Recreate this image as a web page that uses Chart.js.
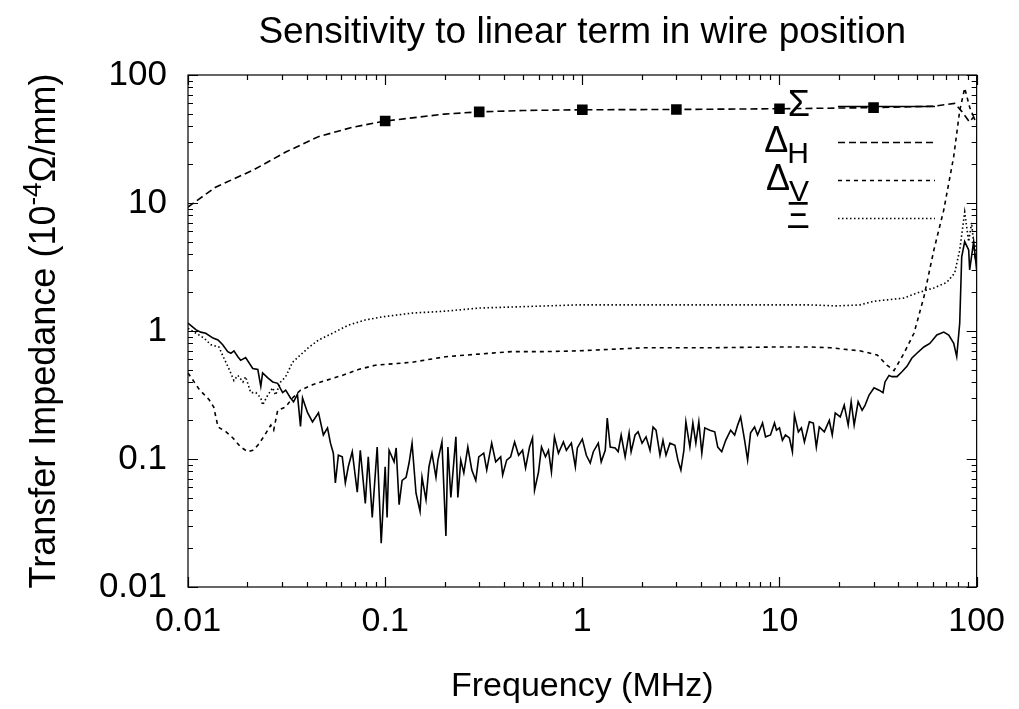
<!DOCTYPE html>
<html>
<head>
<meta charset="utf-8">
<script src="https://cdn.jsdelivr.net/npm/chart.js@4"></script>
<style>
  html, body { margin: 0; padding: 0; background: #fff; }
  #wrap { width: 1019px; height: 709px; }
</style>
</head>
<body>
<div id="wrap"><canvas id="chart" width="1019" height="709"></canvas></div>
<script>
/* ── Data (frequency in MHz, impedance in 10^-4 Ohm/mm) ── */
const xTicks = [0.01, 0.1, 1, 10, 100];
const xTickLabels = ['0.01', '0.1', '1', '10', '100'];
const yTicks = [0.01, 0.1, 1, 10, 100];
const yTickLabels = ['0.01', '0.1', '1', '10', '100'];

const sigmaFreq = [
  0.01, 0.011, 0.0116, 0.0123, 0.0134, 0.0142, 0.015, 0.0159, 0.0165, 0.0171,
  0.0179, 0.0185, 0.0196, 0.0213, 0.0226, 0.0234, 0.0239, 0.0254, 0.0269, 0.0285,
  0.0302, 0.0313, 0.0331, 0.0343, 0.0359, 0.0372, 0.0381, 0.0404, 0.0428, 0.0459,
  0.0486, 0.051, 0.0528, 0.0546, 0.0559, 0.0579, 0.0606, 0.0628, 0.065, 0.0681,
  0.0722, 0.0748, 0.0793, 0.0821, 0.086, 0.0911, 0.0955, 0.1, 0.1023, 0.1047,
  0.111, 0.1137, 0.1177, 0.1219, 0.1277, 0.1322, 0.1369, 0.1434, 0.1503, 0.1538,
  0.1611, 0.1668, 0.1727, 0.181, 0.1852, 0.1941, 0.2033, 0.2081, 0.2154, 0.2284,
  0.2337, 0.2419, 0.2506, 0.2626, 0.2751, 0.2882, 0.2984, 0.3162, 0.3275, 0.347,
  0.3636, 0.3854, 0.3945, 0.4133, 0.433, 0.4535, 0.4752, 0.4977, 0.5154, 0.5399,
  0.5591, 0.5723, 0.5995, 0.6208, 0.6503, 0.6733, 0.6973, 0.7221, 0.7566, 0.8017,
  0.8303, 0.8799, 0.9218, 0.9434, 1.0, 1.048, 1.097, 1.137, 1.205, 1.247,
  1.307, 1.338, 1.385, 1.468, 1.52, 1.574, 1.649, 1.727, 1.768, 1.852,
  1.918, 2.009, 2.105, 2.205, 2.284, 2.365, 2.477, 2.565, 2.657, 2.783,
  2.949, 3.054, 3.162, 3.275, 3.352, 3.512, 3.636, 3.765, 3.899, 4.037,
  4.18, 4.432, 4.696, 4.862, 5.095, 5.337, 5.655, 5.925, 6.136, 6.353,
  6.656, 6.893, 7.136, 7.477, 7.743, 8.206, 8.499, 9.006, 9.434, 9.657,
  10.0, 10.35, 10.72, 11.23, 11.63, 11.91, 12.47, 12.92, 13.38, 14.18,
  14.85, 15.38, 15.92, 16.88, 17.89, 18.52, 19.18, 20.33, 21.3, 22.31,
  23.1, 23.92, 25.06, 26.25, 27.19, 28.48, 30.18, 31.99, 33.51, 34.3,
  35.94, 37.21, 39.45, 41.8, 44.32, 46.96, 49.77, 54.0, 57.89, 62.81,
  68.13, 72.21, 76.53, 79.25, 82.06, 84.0, 86.98, 91.12, 92.18, 96.56, 100
];
const sigmaVal = [
  1.15, 1.02, 0.98, 0.96, 0.88, 0.85, 0.78, 0.69, 0.67, 0.70,
  0.63, 0.59, 0.62, 0.51, 0.50, 0.37, 0.47, 0.43, 0.40, 0.39,
  0.33, 0.345, 0.30, 0.28, 0.32, 0.18, 0.30, 0.23, 0.195, 0.23,
  0.154, 0.175, 0.133, 0.111, 0.065, 0.107, 0.104, 0.065, 0.087, 0.114,
  0.055, 0.117, 0.045, 0.104, 0.035, 0.124, 0.022, 0.087, 0.035, 0.117,
  0.095, 0.122, 0.044, 0.068, 0.072, 0.093, 0.133, 0.054, 0.039, 0.072,
  0.048, 0.087, 0.111, 0.072, 0.098, 0.136, 0.025, 0.124, 0.050, 0.149,
  0.050, 0.098, 0.078, 0.124, 0.082, 0.068, 0.104, 0.111, 0.082, 0.133,
  0.095, 0.104, 0.075, 0.098, 0.104, 0.136, 0.107, 0.117, 0.085, 0.124,
  0.146, 0.057, 0.079, 0.124, 0.104, 0.117, 0.079, 0.149, 0.111, 0.136,
  0.117, 0.133, 0.087, 0.122, 0.143, 0.107, 0.093, 0.114, 0.133, 0.095,
  0.117, 0.209, 0.124, 0.122, 0.114, 0.154, 0.104, 0.16, 0.114, 0.154,
  0.163, 0.133, 0.149, 0.117, 0.178, 0.168, 0.107, 0.14, 0.107, 0.133,
  0.128, 0.098, 0.082, 0.117, 0.195, 0.124, 0.191, 0.133, 0.195, 0.111,
  0.175, 0.168, 0.163, 0.124, 0.114, 0.14, 0.168, 0.154, 0.184, 0.213,
  0.14, 0.098, 0.16, 0.178, 0.154, 0.191, 0.149, 0.154, 0.191, 0.168,
  0.175, 0.14, 0.154, 0.146, 0.114, 0.22, 0.163, 0.175, 0.136, 0.195,
  0.191, 0.124, 0.178, 0.163, 0.20, 0.154, 0.229, 0.213, 0.264, 0.184,
  0.28, 0.184, 0.28, 0.24, 0.264, 0.316, 0.36, 0.345, 0.33, 0.40,
  0.45, 0.44, 0.44, 0.48, 0.53, 0.615, 0.67, 0.75, 0.80, 0.93,
  0.98, 0.93, 0.80, 0.63, 1.15, 3.8, 5.0, 4.3, 3.0, 5.0, 3.0
];

const deltaHFreq = [0.01, 0.0138, 0.0213, 0.0313, 0.0459, 0.068, 0.1, 0.2, 0.3, 0.5,
  1, 3, 10, 30, 60.7, 77.4, 84, 92, 96.6, 100];
const deltaHVal = [9.3, 13.3, 18, 25, 33, 39, 43.7, 49.5, 51.5, 52.8,
  53.5, 53.8, 54.5, 55.6, 57, 60, 52, 43, 47, 41];

const markFreq = [0.1, 0.3, 1, 3, 10, 30];
const markVal = [43.7, 51.5, 53.5, 53.8, 54.5, 55.6];

const deltaVFreq = [0.01, 0.0114, 0.0128, 0.0135, 0.0142, 0.0156, 0.0169, 0.0185, 0.0201, 0.0213,
  0.0226, 0.0242, 0.0263, 0.0272, 0.0285, 0.0313, 0.0339, 0.0372, 0.0428, 0.0498,
  0.0606, 0.0731, 0.089, 0.137, 0.203, 0.298, 0.438, 0.65, 0.955, 2.08,
  4.48, 9.77, 14.3, 18.1, 21.3, 25.6, 31.3, 35.1, 38.1, 42.8,
  48.1, 54.0, 60.7, 68.1, 76.5, 82.1, 87.0, 92.2, 96.6, 100];
const deltaVVal = [0.47, 0.35, 0.29, 0.255, 0.178, 0.163, 0.146, 0.124, 0.114, 0.117,
  0.128, 0.149, 0.184, 0.168, 0.24, 0.255, 0.30, 0.345, 0.38, 0.41,
  0.45, 0.50, 0.54, 0.57, 0.63, 0.66, 0.69, 0.69, 0.70, 0.74,
  0.74, 0.75, 0.75, 0.74, 0.72, 0.70, 0.65, 0.54, 0.49, 0.67,
  0.96, 1.84, 4.3, 8.8, 23, 53, 79, 56, 47, 45];

const xiFreq = [0.01, 0.011, 0.01205, 0.01307, 0.01434, 0.0152, 0.0161, 0.0171, 0.0179, 0.019,
  0.0196, 0.0208, 0.0221, 0.0234, 0.0239, 0.0254, 0.0269, 0.0278, 0.0295, 0.0313,
  0.0339, 0.0372, 0.0408, 0.0459, 0.054, 0.065, 0.0793, 0.0966, 0.137, 0.203,
  0.298, 0.438, 0.65, 0.955, 2.08, 4.48, 9.77, 14.3, 19.6, 25.6,
  30.2, 35.1, 42.8, 49.8, 60.7, 70.6, 77.4, 82.1, 87.0, 91.1, 94.3, 97.7, 100];
const xiVal = [1.05, 0.96, 0.88, 0.78, 0.75, 0.615, 0.51, 0.41, 0.45, 0.40,
  0.44, 0.33, 0.33, 0.30, 0.264, 0.316, 0.36, 0.316, 0.40, 0.44,
  0.57, 0.65, 0.74, 0.85, 0.96, 1.11, 1.22, 1.29, 1.38, 1.43,
  1.51, 1.54, 1.57, 1.60, 1.6, 1.6, 1.6, 1.6, 1.57, 1.6,
  1.71, 1.75, 1.81, 1.98, 2.17, 2.4, 2.84, 4.3, 8.5, 5.0, 7.0, 4.0, 5.0];

const FONT = "'Liberation Sans', Arial, Helvetica, sans-serif";

function pts(xs, ys) {
  return xs.map((x, i) => ({ x: x, y: ys[i] }));
}

/* ── Frame, inward ticks, titles, legend ── */
const decoPlugin = {
  id: 'deco',
  afterDraw(chart) {
    const ctx = chart.ctx;
    const a = chart.chartArea;
    const xs = chart.scales.x, ys = chart.scales.y;
    ctx.save();
    ctx.strokeStyle = '#000';
    ctx.fillStyle = '#000';
    ctx.lineWidth = 1.2;
    ctx.setLineDash([]);
    ctx.strokeRect(a.left, a.top, a.right - a.left, a.bottom - a.top);

    ctx.beginPath();
    xTicks.forEach(d => {
      for (let m = 1; m <= 9; m++) {
        const v = d * m;
        if (v > 100.0001) break;
        const len = m === 1 ? 10 : 5;
        const px = Math.round(xs.getPixelForValue(v)) + 0.5;
        ctx.moveTo(px, a.bottom); ctx.lineTo(px, a.bottom - len);
        ctx.moveTo(px, a.top); ctx.lineTo(px, a.top + len);
      }
    });
    yTicks.forEach(d => {
      for (let m = 1; m <= 9; m++) {
        const v = d * m;
        if (v > 100.0001) break;
        const len = m === 1 ? 10 : 5;
        const py = Math.round(ys.getPixelForValue(v)) + 0.5;
        ctx.moveTo(a.left, py); ctx.lineTo(a.left + len, py);
        ctx.moveTo(a.right, py); ctx.lineTo(a.right - len, py);
      }
    });
    ctx.stroke();

    // title
    ctx.font = '37px ' + FONT;
    ctx.textAlign = 'center';
    ctx.textBaseline = 'alphabetic';
    ctx.fillText('Sensitivity to linear term in wire position', (a.left + a.right) / 2, 43);

    // x title
    ctx.font = '34px ' + FONT;
    ctx.fillText('Frequency (MHz)', (a.left + a.right) / 2, 696);

    // y title with superscript
    ctx.save();
    ctx.translate(55, (a.top + a.bottom) / 2);
    ctx.rotate(-Math.PI / 2);
    const big = '36px ' + FONT, small = '26px ' + FONT;
    const p1 = 'Transfer Impedance (10', p2 = '-4', p3 = '\u03A9/mm)';
    ctx.font = big; const w1 = ctx.measureText(p1).width, w3 = ctx.measureText(p3).width;
    ctx.font = small; const w2 = ctx.measureText(p2).width;
    let x0 = -(w1 + w2 + w3) / 2;
    ctx.textAlign = 'left';
    ctx.font = big; ctx.fillText(p1, x0, 0);
    ctx.font = small; ctx.fillText(p2, x0 + w1, -14);
    ctx.font = big; ctx.fillText(p3, x0 + w1 + w2, 0);
    ctx.restore();

    // legend
    const rows = [
      { main: '\u03A3', sub: '', y: 106, dash: [] },
      { main: '\u0394', sub: 'H', y: 142, dash: [7, 4] },
      { main: '\u0394', sub: 'V', y: 180, dash: [4, 4] },
      { main: '\u039E', sub: '', y: 218, dash: [1.5, 2.5] }
    ];
    rows.forEach(r => {
      ctx.font = big; const wm = ctx.measureText(r.main).width;
      ctx.font = '30px ' + FONT; const ws = r.sub ? ctx.measureText(r.sub).width : 0;
      const right = 810;
      ctx.textAlign = 'left';
      ctx.textBaseline = 'middle';
      ctx.font = big; ctx.fillText(r.main, right - ws - wm, r.y);
      if (r.sub) { ctx.font = '30px ' + FONT; ctx.fillText(r.sub, right - ws - 1, r.y + 13); }
      ctx.lineWidth = 1.5;
      ctx.setLineDash(r.dash);
      ctx.beginPath();
      ctx.moveTo(838, r.y + 0.5); ctx.lineTo(935, r.y + 0.5);
      ctx.stroke();
    });
    ctx.restore();
  }
};

const lineBase = { borderColor: '#000', borderWidth: 1.6, pointRadius: 0, tension: 0, fill: false };

new Chart(document.getElementById('chart'), {
  type: 'line',
  data: {
    datasets: [
      Object.assign({ label: 'Sigma', data: pts(sigmaFreq, sigmaVal), borderDash: [] }, lineBase),
      Object.assign({ label: 'Delta H', data: pts(deltaHFreq, deltaHVal), borderDash: [7, 4] }, lineBase),
      Object.assign({ label: 'Delta V', data: pts(deltaVFreq, deltaVVal), borderDash: [4, 4] }, lineBase),
      Object.assign({ label: 'Xi', data: pts(xiFreq, xiVal), borderDash: [1.5, 2.5] }, lineBase),
      { label: 'model', data: pts(markFreq, markVal), showLine: false, pointStyle: 'rect',
        pointRadius: 7.5, backgroundColor: '#000', borderColor: '#000', borderWidth: 0 }
    ]
  },
  options: {
    responsive: false,
    animation: false,
    devicePixelRatio: 1,
    layout: { padding: { top: 75, right: 39, left: 0, bottom: 0 } },
    plugins: { legend: { display: false }, tooltip: { enabled: false } },
    scales: {
      x: {
        type: 'logarithmic', min: 0.01, max: 100,
        afterFit: s => { s.height = 122; },
        afterBuildTicks: s => { s.ticks = xTicks.map(v => ({ value: v })); },
        grid: { display: false, drawTicks: false },
        border: { display: false },
        ticks: {
          autoSkip: false, maxRotation: 0, padding: 14, color: '#000',
          font: { size: 34, family: FONT },
          callback: (v) => { const i = xTicks.findIndex(t => Math.abs(t - v) / t < 1e-6); return i >= 0 ? xTickLabels[i] : ''; }
        }
      },
      y: {
        type: 'logarithmic', min: 0.01, max: 100,
        afterFit: s => { s.width = 188; },
        afterBuildTicks: s => { s.ticks = yTicks.map(v => ({ value: v })); },
        grid: { display: false, drawTicks: false },
        border: { display: false },
        ticks: {
          autoSkip: false, padding: 21, color: '#000',
          font: { size: 35, family: FONT },
          callback: (v) => { const i = yTicks.findIndex(t => Math.abs(t - v) / t < 1e-6); return i >= 0 ? yTickLabels[i] : ''; }
        }
      }
    }
  },
  plugins: [decoPlugin]
});
</script>
</body>
</html>
